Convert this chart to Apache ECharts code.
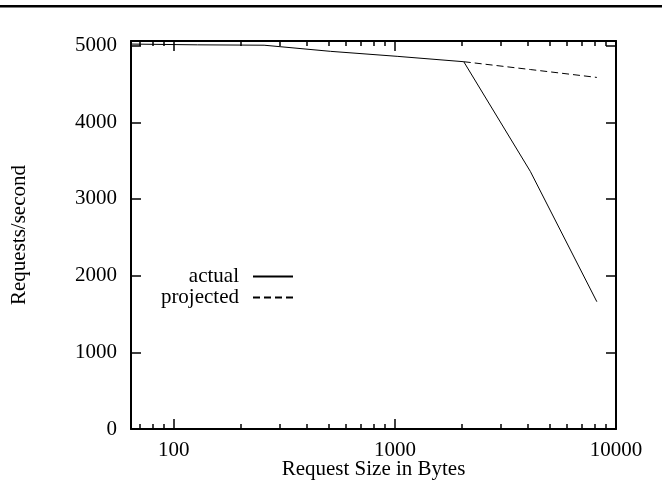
<!DOCTYPE html>
<html><head><meta charset="utf-8">
<script src="https://cdn.jsdelivr.net/npm/echarts@6/dist/echarts.min.js"></script>
<style>html,body{margin:0;padding:0;background:#fff}#c{width:662px;height:487px}</style>
</head><body><div id="c"></div>
<script>
const requestSizes = [64, 128, 256, 512, 1024, 2048, 4096, 8192];
const actualRps = [5020, 5010, 5005, 4925, 4860, 4790, 3360, 1660];
const projectedSizes = [2048, 4096, 8192];
const projectedRps = [4790, 4688, 4585];
const xMajorTicks = [100, 1000, 10000];
const xMinorTicks = [70, 80, 90, 200, 300, 400, 500, 600, 700, 800, 900, 2000, 3000, 4000, 5000, 6000, 7000, 8000, 9000];
const yTicks = [0, 1000, 2000, 3000, 4000, 5000];
const seriesNames = ['actual', 'projected'];
const xTitle = 'Request Size in Bytes';
const yTitle = 'Requests/second';

const X_MIN = 64, X_MAX = 10000, Y_MIN = 0, Y_MAX = 5060;
const FONT = '"Liberation Serif", "Times New Roman", serif';
const BLACK = '#000';
const plainNum = function (v) { return String(Math.round(v)); };

function xAxisDef(position, ticks, len, withLine, withLabels) {
  return {
    type: 'log', logBase: 10, min: X_MIN, max: X_MAX, position: position,
    splitLine: { show: false },
    axisLine: { show: withLine, lineStyle: { color: BLACK, width: 2 } },
    axisTick: { show: true, inside: true, length: len, customValues: ticks, lineStyle: { color: BLACK, width: 1.5 } },
    axisLabel: withLabels ? { show: true, customValues: ticks, margin: 11, color: BLACK, fontSize: 21, fontFamily: FONT,
      formatter: plainNum } : { show: false },
    name: withLabels ? xTitle : '',
    nameLocation: 'middle', nameGap: 30, nameMoveOverlap: false,
    nameTextStyle: { color: BLACK, fontSize: 21, fontFamily: FONT }
  };
}
function yAxisDef(position, withLabels) {
  return {
    type: 'value', min: Y_MIN, max: Y_MAX, position: position,
    splitLine: { show: false },
    axisLine: { show: true, lineStyle: { color: BLACK, width: 2 } },
    axisTick: { show: true, inside: true, length: 10, customValues: yTicks, lineStyle: { color: BLACK, width: 1.5 } },
    axisLabel: withLabels ? { show: true, customValues: yTicks, margin: 14, color: BLACK, fontSize: 21, fontFamily: FONT,
      formatter: plainNum } : { show: false },
    name: withLabels ? yTitle : '',
    nameLocation: 'middle', nameGap: 101, nameMoveOverlap: false,
    nameTextStyle: { color: BLACK, fontSize: 21, fontFamily: FONT }
  };
}
function legendDef(name, top) {
  return {
    data: [name], right: 368, top: top, padding: 0, align: 'right', itemWidth: 40, itemHeight: 14, selectedMode: false,
    itemStyle: { opacity: 0, color: 'rgba(0,0,0,0)', borderWidth: 0 },
    textStyle: { color: BLACK, fontSize: 21, fontFamily: FONT, padding: [0, 9, 0, 0] }
  };
}

const chart = echarts.init(document.getElementById('c'), null, { renderer: 'canvas' });
chart.setOption({
  animation: false,
  backgroundColor: '#fff',
  grid: { left: 131, right: 46, top: 41, bottom: 58, containLabel: false, outerBoundsMode: 'none' },
  xAxis: [
    xAxisDef('bottom', xMajorTicks, 10, true, true),
    xAxisDef('bottom', xMinorTicks, 5, false, false),
    xAxisDef('top', xMajorTicks, 10, true, false),
    xAxisDef('top', xMinorTicks, 5, false, false)
  ],
  yAxis: [yAxisDef('left', true), yAxisDef('right', false)],
  legend: [legendDef(seriesNames[0], 266), legendDef(seriesNames[1], 287)],
  graphic: [
    { type: 'rect', left: 0, top: 5, shape: { width: 662, height: 2.5 }, style: { fill: BLACK }, silent: true }
  ],
  series: [
    { name: seriesNames[0], type: 'line', xAxisIndex: 0, yAxisIndex: 0, symbol: 'none',
      lineStyle: { color: BLACK, width: 1 }, itemStyle: { color: BLACK },
      data: requestSizes.map((s, i) => [s, actualRps[i]]) },
    { name: seriesNames[1], type: 'line', xAxisIndex: 0, yAxisIndex: 0, symbol: 'none',
      lineStyle: { color: BLACK, width: 1, type: [7, 4] }, itemStyle: { color: BLACK },
      data: projectedSizes.map((s, i) => [s, projectedRps[i]]) }
  ]
});
</script></body></html>
